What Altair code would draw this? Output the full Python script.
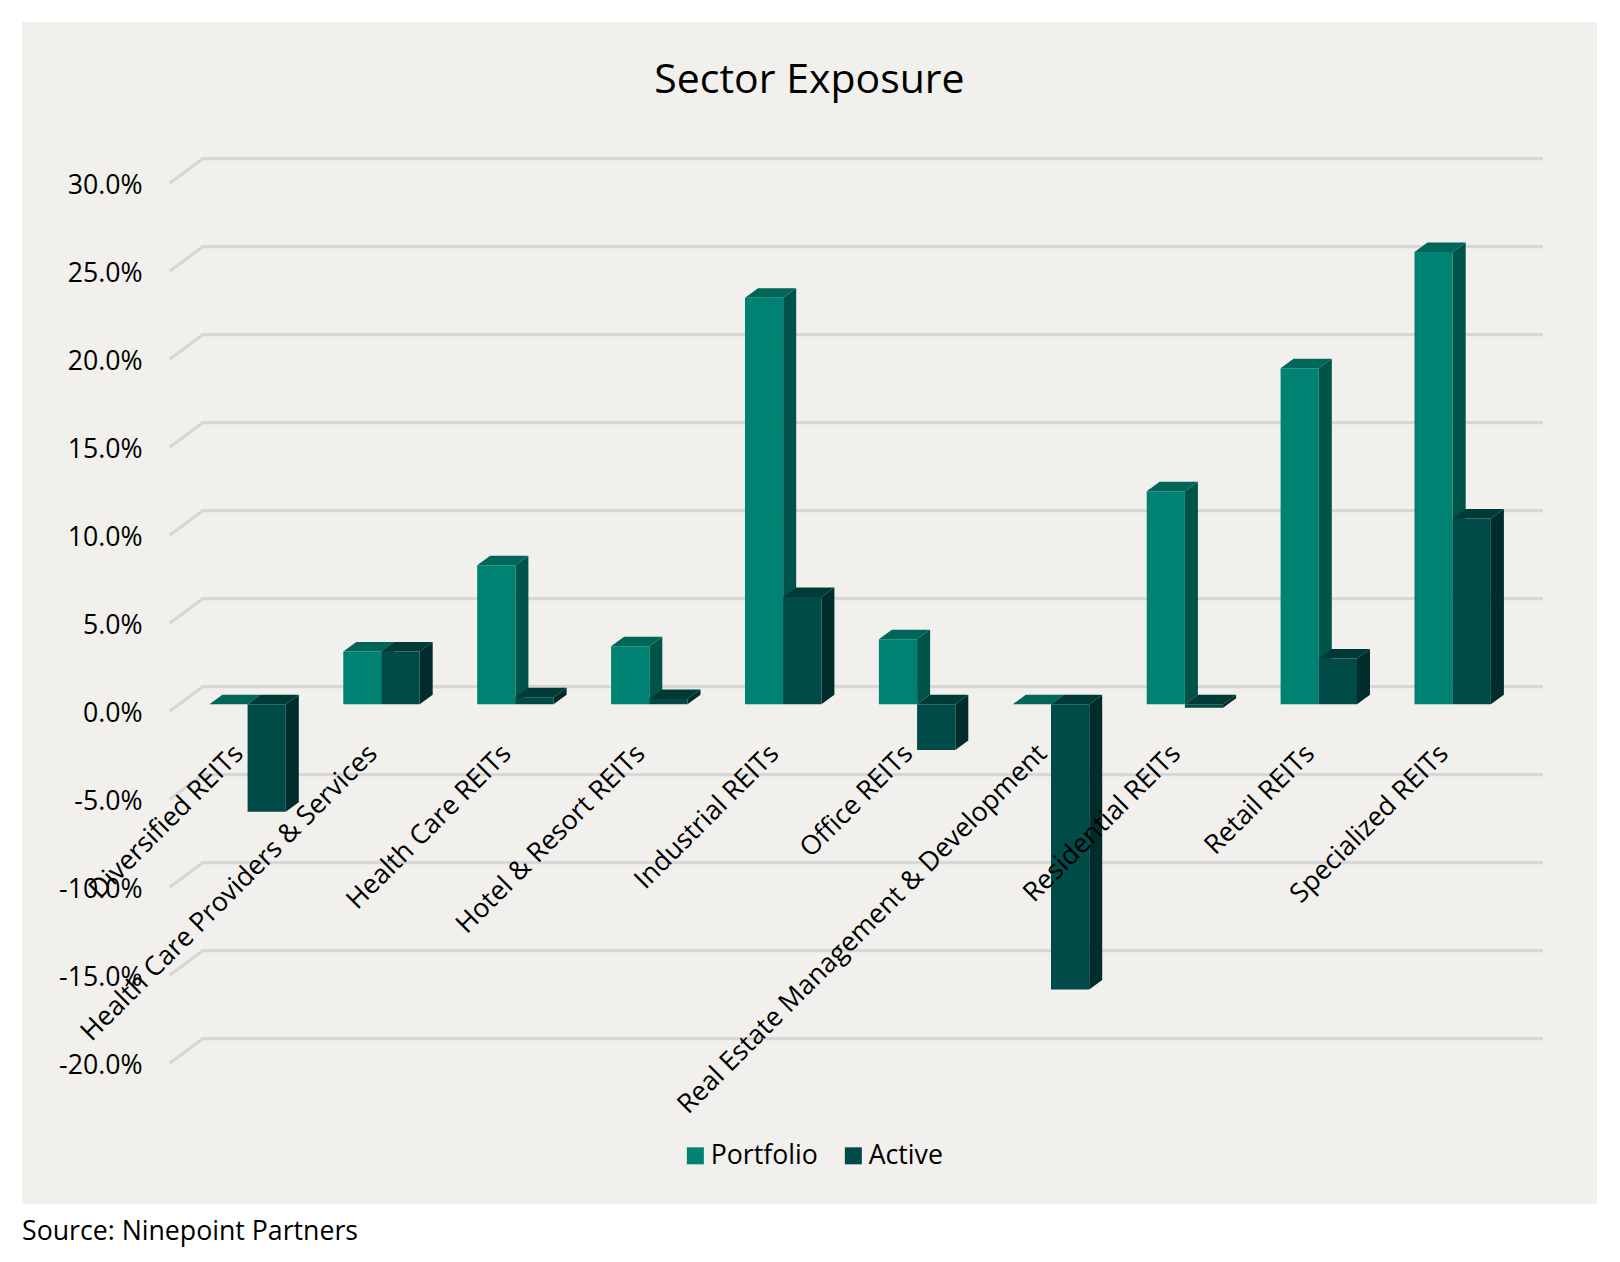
import json
import altair as alt
import pandas as pd

categories = ["Diversified REITs", "Health Care Providers & Services", "Health Care REITs",
              "Hotel & Resort REITs", "Industrial REITs", "Office REITs",
              "Real Estate Management & Development", "Residential REITs", "Retail REITs",
              "Specialized REITs"]
portfolio = [0.0, 3.0, 7.9, 3.3, 23.1, 3.7, 0.0, 12.1, 19.1, 25.7]
active = [-6.1, 3.0, 0.4, 0.3, 6.1, -2.6, -16.2, -0.2, 2.6, 10.55]
ticks = [30, 25, 20, 15, 10, 5, 0, -5, -10, -15, -20]
series = ["Portfolio", "Active"]
front_colors = ["#008272", "#004b47"]
top_colors = ["#00665a", "#003a36"]
side_colors = ["#005349", "#002d2c"]

FONT = "Open Sans"
FS = 26.7
BAR = 38.2 / 133.9      # bar width, in category units
DX = 13 / 133.9         # 3D depth, in category units
DY = 9.5 / 17.6         # 3D depth, in percentage points
X_DOMAIN = [-1.6848, 10.0777]
Y_DOMAIN = [-28.392, 38.767]

xs = alt.Scale(domain=X_DOMAIN, nice=False, zero=False)
ys = alt.Scale(domain=Y_DOMAIN, nice=False, zero=False)
names = json.dumps(categories)

x_axis = alt.Axis(values=list(range(len(categories))), labelExpr=f"{names}[datum.value]",
                  labelAngle=-45, labelAlign="right", labelBaseline="middle", labelFontSize=FS,
                  labelFont=FONT, labelColor="#000000", labelLimit=1000, labelOverlap=False,
                  labelFlush=False, labelBound=False, labelPadding=0, labelOffset=-9,
                  domain=False, ticks=False, grid=False, title=None, offset=-455, zindex=1)
y_axis = alt.Axis(values=ticks,
                  labelExpr="(datum.value<0?'-':'')+format(abs(datum.value),'.1f')+'%'",
                  labelFontSize=FS, labelFont=FONT, labelColor="#000000", labelOffset=9.6,
                  labelPadding=0, labelOverlap=False, labelFlush=False, labelBound=False,
                  domain=False, ticks=False, grid=False, title=None, offset=-120, zindex=1)

# gridlines: a back wall line plus the short diagonal floor edge
grid_rows = []
for t in ticks:
    grid_rows += [
        {"tick": t, "step": 0, "gx": (169.5 - 247.6) / 133.9, "gy": t - 0.4},
        {"tick": t, "step": 1, "gx": (202.8 - 247.6) / 133.9, "gy": t + 1.0},
        {"tick": t, "step": 2, "gx": (1543 - 247.6) / 133.9, "gy": t + 1.0},
    ]
grid = alt.Chart(pd.DataFrame(grid_rows)).mark_line(color="#d7d7d7", strokeWidth=3.2).encode(
    x=alt.X("gx:Q", scale=xs, axis=x_axis),
    y=alt.Y("gy:Q", scale=ys, axis=y_axis),
    detail="tick:N",
    order="step:Q",
)

layers = [grid]
for s_i, (s, vals) in enumerate(zip(series, [portfolio, active])):
    fronts, sides, tops = [], [], []
    for c_i, v in enumerate(vals):
        l = c_i + (s_i - 1) * BAR
        r = l + BAR
        t, b = max(v, 0), min(v, 0)
        fronts.append({"series": s, "l": l, "r": r, "t": t, "b": b})
        sides += [
            {"id": c_i, "x": r, "y": t, "y2": b},
            {"id": c_i, "x": r + DX, "y": t + DY, "y2": b + DY},
        ]
        tops += [
            {"id": c_i, "x": l, "y": t, "y2": t},
            {"id": c_i, "x": l + DX, "y": t + DY, "y2": t},
            {"id": c_i, "x": r, "y": t + DY, "y2": t},
            {"id": c_i, "x": r + DX, "y": t + DY, "y2": t + DY},
        ]
    for rows, col in ((sides, side_colors[s_i]), (tops, top_colors[s_i])):
        layers.append(alt.Chart(pd.DataFrame(rows)).mark_area(color=col, opacity=1).encode(
            x=alt.X("x:Q", scale=xs, axis=x_axis),
            y=alt.Y("y:Q", scale=ys, axis=y_axis, stack=None),
            y2="y2:Q",
            detail="id:N",
        ))
    layers.append(alt.Chart(pd.DataFrame(fronts)).mark_rect().encode(
        x=alt.X("l:Q", scale=xs, axis=x_axis),
        x2="r:Q",
        y=alt.Y("t:Q", scale=ys, axis=y_axis),
        y2="b:Q",
        color=alt.Color("series:N", scale=alt.Scale(domain=series, range=front_colors),
                        legend=alt.Legend(orient="none", legendX=660, legendY=1120,
                                          direction="horizontal", title=None, symbolType="square",
                                          symbolSize=289, symbolStrokeWidth=0, labelFontSize=FS,
                                          labelFont=FONT, labelColor="#000000", columnPadding=22,
                                          labelOffset=2, labelLimit=400)),
    ))

source = alt.Chart(pd.DataFrame({"t": ["Source: Ninepoint Partners"]})).mark_text(
    align="left", baseline="middle", font=FONT, fontSize=FS, color="#000000"
).encode(text="t:N", x=alt.value(0), y=alt.value(1210))
layers.append(source)

chart = alt.layer(*layers).resolve_scale(x="shared", y="shared").properties(
    width=1575, height=1182,
    autosize=alt.AutoSizeParams(type="none"),
    padding={"left": 14, "top": 14, "right": 10, "bottom": 52},
    background="#ffffff",
    title=alt.TitleParams("Sector Exposure", font=FONT, fontSize=41, fontWeight="normal",
                          color="#000000", anchor="middle", orient="top", offset=-121,
                          baseline="bottom"),
).configure_view(fill="#f1f0ec", stroke=None)

chart.save("out.html", embed_options={"renderer": "svg", "actions": False})
